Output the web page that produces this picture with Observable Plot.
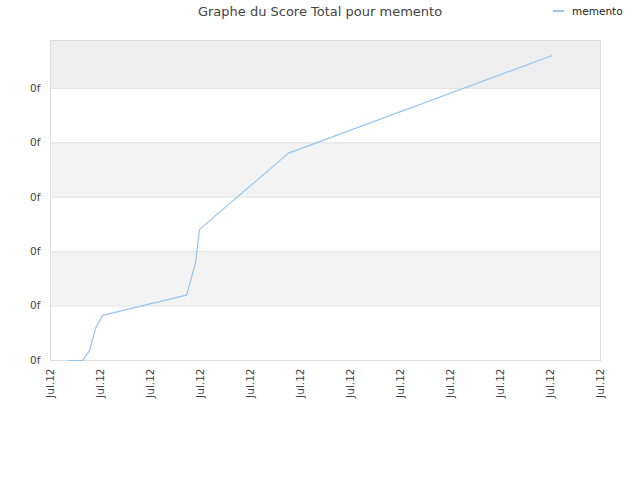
<!DOCTYPE html>
<html>
<head>
<meta charset="utf-8">
<script src="https://cdn.jsdelivr.net/npm/d3@7"></script>
<script src="https://cdn.jsdelivr.net/npm/@observablehq/plot@0.6"></script>
<style>
  body { margin: 0; background: #fff; font-family: "DejaVu Sans", sans-serif; }
  #wrap { position: relative; width: 640px; height: 480px; }
  #title { position: absolute; left: 0; top: 4px; width: 640px; text-align: center; font-size: 13px; color: #444; }
  #legend { position: absolute; left: 553px; top: 5px; font-size: 10.5px; color: #222; display: flex; align-items: center; }
  #legend span.sw { display: inline-block; width: 11px; height: 2px; background: #93c4f2; margin-right: 8px; }
</style>
</head>
<body>
<div id="wrap">
  <div id="chart"></div>
  <div id="title">Graphe du Score Total pour memento</div>
  <div id="legend"><span class="sw"></span>memento</div>
</div>
<script>
// Series (x: time position in tick units, y: score in tick units)
const seriesName = "memento";
const xValues = [0.36, 0.64, 0.78, 0.9, 1.04, 2.72, 2.9, 2.98, 4.76, 10.02];
const yValues = [0, 0, 0.18, 0.59, 0.83, 1.2, 1.79, 2.41, 3.81, 5.6];
// Tick labels
const xTicks = [0, 1, 2, 3, 4, 5, 6, 7, 8, 9, 10, 11];
const xTickLabel = "Jul.12";
const yTicks = [0, 1, 2, 3, 4, 5];
const yTickLabel = "0f";
// Background bands
const bandStarts = [1, 3, 5];
const bandEnds = [2, 4, 5.88];
const bandFills = ["#f3f3f3", "#f3f3f3", "#eeeeee"];

const data = xValues.map((x, i) => ({x, y: yValues[i]}));
const bands = bandStarts.map((s, i) => ({y1: s, y2: bandEnds[i], fill: bandFills[i]}));

const chart = Plot.plot({
  width: 640,
  height: 480,
  marginLeft: 50,
  marginRight: 40,
  marginTop: 40,
  marginBottom: 120,
  style: {fontFamily: "DejaVu Sans, sans-serif", fontSize: "10.5px", color: "#444", background: "#fff"},
  x: {domain: [0, 11], ticks: xTicks, tickFormat: () => xTickLabel, tickRotate: -90, tickSize: 0, tickPadding: 8, label: null},
  y: {domain: [0, 5.88], ticks: yTicks, tickFormat: () => yTickLabel, tickSize: 0, tickPadding: 10, label: null},
  marks: [
    Plot.rectY(bands, {x1: 0, x2: 11, y1: "y1", y2: "y2", fill: "fill"}),
    Plot.ruleY(yTicks.slice(1), {stroke: "#e0e0e0", strokeWidth: 1}),
    Plot.frame({stroke: "#dcdcdc"}),
    Plot.line(data, {x: "x", y: "y", stroke: "#93c4f2", strokeWidth: 1.2})
  ]
});
document.getElementById("chart").appendChild(chart);
</script>
</body>
</html>
